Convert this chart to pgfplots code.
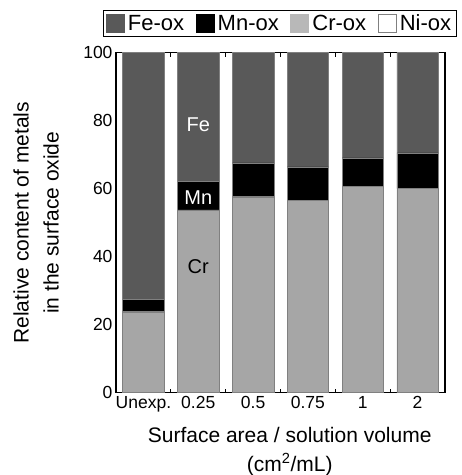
\documentclass[border=0pt]{standalone}
\usepackage{fontspec}
\setmainfont{Liberation Sans}
\usepackage{pgfplots}
\pgfplotsset{compat=1.18}
\definecolor{feox}{HTML}{595959}
\definecolor{crox}{HTML}{A6A6A6}
\definecolor{edge}{HTML}{808080}
\newcommand\legfont{\fontsize{22bp}{26bp}\selectfont}
\newcommand\annfont{\fontsize{20bp}{24bp}\selectfont}
\newcommand\tickfont{\fontsize{17.5bp}{20bp}\selectfont}
\begin{document}
\begin{tikzpicture}
\path[use as bounding box] (-116bp,-82.3bp) rectangle (346bp,392.7bp);
\begin{axis}[
  scale only axis, width=329bp, height=340bp,
  ybar stacked, bar width=0.755,
  xmin=-0.5, xmax=5.5, ymin=0, ymax=100,
  xtick={0,...,5}, xticklabels={Unexp.,0.25,0.5,0.75,1,2},
  minor xtick={0.5,1.5,2.5,3.5,4.5},
  major x tick style={draw=none},
  minor tick length=4bp,
  ytick={0,20,...,100},
  y tick style={draw=none},
  tick align=inside,
  axis line style={black, line width=1.2bp},
  minor tick style={black, line width=1bp},
  /pgf/number format/assume math mode=true,
  tick label style={font=\tickfont},
  xlabel={Surface area / solution volume\\(cm\textsuperscript{2}/mL)},
  xlabel style={align=center, font=\fontsize{21bp}{29bp}\selectfont, at={(axis description cs:0.528,-0.172)}, anchor=center},
  ylabel={Relative content of metals\\in the surface oxide},
  ylabel style={align=center, font=\fontsize{21bp}{30bp}\selectfont, at={(axis description cs:-0.243,0.5)}, anchor=center},
  legend columns=4,
  legend style={at={(axis description cs:-0.0386,1.1256)}, anchor=north west, draw=black, line width=1bp,
    font=\legfont, nodes={font=\legfont, inner ysep=2bp, inner xsep=3.5bp}, inner xsep=2bp, inner ysep=2.5bp,
    /tikz/every even column/.append style={column sep=8bp}},
  legend image code/.code={\draw[#1, line width=0.6bp] (0bp,-9bp) rectangle (18bp,9bp);},
  after end axis/.code={
    \node[white, font=\annfont] at (axis cs:1,78.9) {Fe};
    \node[white, font=\annfont] at (axis cs:1,57.3) {Mn};
    \node[black, font=\annfont] at (axis cs:1,37.1) {Cr};
  },
]
\addplot[forget plot, fill=crox, draw=edge, line width=0.5bp] coordinates {(0,23.6) (1,53.8) (2,57.4) (3,56.6) (4,60.7) (5,60.0)};
\addplot[forget plot, fill=white, draw=edge, line width=0.5bp] coordinates {(0,0.4) (1,0) (2,0.4) (3,0) (4,0) (5,0)};
\addplot[forget plot, fill=black, draw=edge, line width=0.5bp] coordinates {(0,3.5) (1,8.4) (2,9.8) (3,9.8) (4,8.4) (5,10.5)};
\addplot[forget plot, fill=feox, draw=edge, line width=0.5bp] coordinates {(0,72.5) (1,37.8) (2,32.4) (3,33.6) (4,30.9) (5,29.5)};
\addlegendimage{fill=feox, draw=feox}
\addlegendentry{Fe-ox}
\addlegendimage{fill=black, draw=black}
\addlegendentry{Mn-ox}
\addlegendimage{fill=crox!80!white, draw=crox!80!white}
\addlegendentry{Cr-ox}
\addlegendimage{fill=white, draw=edge}
\addlegendentry{Ni-ox}
\end{axis}
\end{tikzpicture}
\end{document}
